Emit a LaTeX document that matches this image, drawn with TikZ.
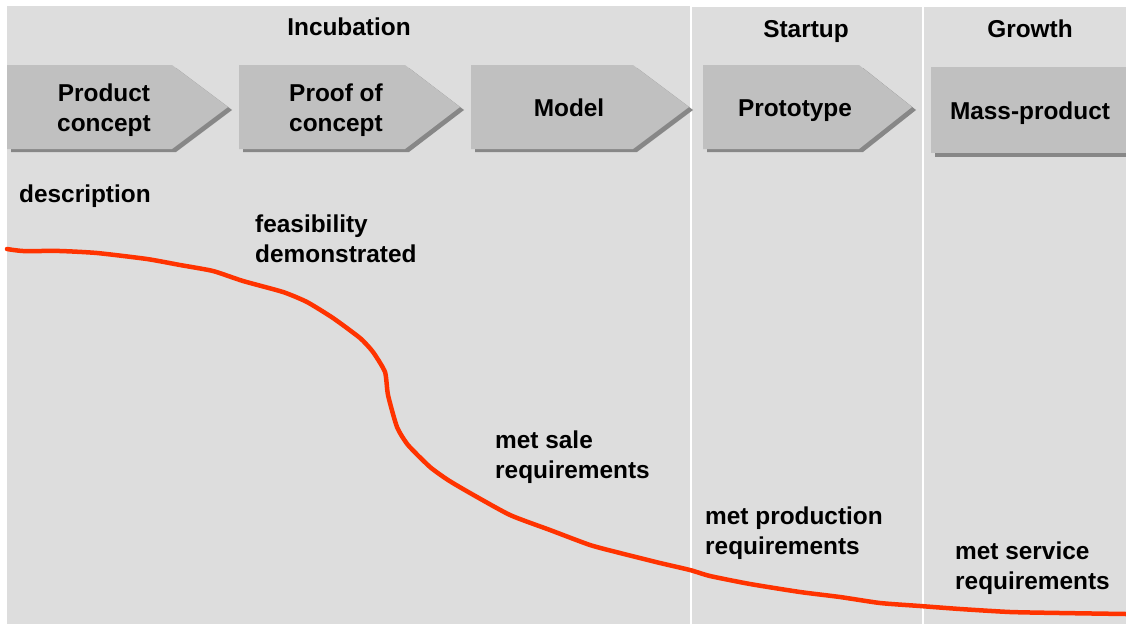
\documentclass[tikz,border=0pt]{standalone}
\usepackage{fontspec}
\setmainfont{Liberation Sans}
\usetikzlibrary{calc}
\definecolor{panelgray}{HTML}{DDDDDD}
\definecolor{boxgray}{HTML}{C0C0C0}
\definecolor{shadowgray}{HTML}{878787}
\definecolor{curvered}{HTML}{FF3300}
\tikzset{
  panel/.style={fill=panelgray, draw=none},
  stagebox/.style={fill=boxgray, draw=none},
  stageshadow/.style={fill=shadowgray, draw=none},
  lbl/.style={font=\bfseries\fontsize{24.4}{29.5}\selectfont, inner sep=0pt, align=left, anchor=base west},
  title/.style={font=\bfseries\fontsize{24.4}{29.5}\selectfont, inner sep=0pt, align=center, anchor=base},
  curve/.style={draw=curvered, line width=4.5pt, line join=round, line cap=round}
}
\begin{document}
\begin{tikzpicture}[x=1pt,y=-1pt]
\useasboundingbox[fill=white] (0,0) rectangle (1126,624);
% panels
\path[panel] (7,6) rectangle (690,624);
\path[panel] (692,7) rectangle (922,624);
\path[panel] (924,7) rectangle (1126,624);
% phase titles
\node[title] (incub) at (349,35) {Incubation};
\node[title] (start) at (806,37) {Startup};
\node[title] (grow) at (1030,37) {Growth};
% stage chevrons: shadows
\path[stageshadow] (11,68) -- (176,68) -- (232,110) -- (176,152) -- (11,152) -- cycle;
\path[stageshadow] (243,68) -- (409,68) -- (464,110) -- (409,152) -- (243,152) -- cycle;
\path[stageshadow] (475,68) -- (637,68) -- (693,110) -- (637,152) -- (475,152) -- cycle;
\path[stageshadow] (707,68) -- (863,68) -- (916,110) -- (863,152) -- (707,152) -- cycle;
\path[stageshadow] (935,71) rectangle (1126,157);
% stage chevrons
\path[stagebox] (7,65) -- (172,65) -- (228,107) -- (172,149) -- (7,149) -- cycle;
\path[stagebox] (239,65) -- (405,65) -- (460,107) -- (405,149) -- (239,149) -- cycle;
\path[stagebox] (471,65) -- (633,65) -- (689,107) -- (633,149) -- (471,149) -- cycle;
\path[stagebox] (703,65) -- (859,65) -- (912,107) -- (859,149) -- (703,149) -- cycle;
\path[stagebox] (931,67) rectangle (1126,153);
% stage labels (base = baseline of the last line)
\node[title] (s1) at (104,131) {Product\\concept};
\node[title] (s2) at (336,131) {Proof of\\concept};
\node[title] (s3) at (569,116) {Model};
\node[title] (s4) at (795,116) {Prototype};
\node[title] (s5) at (1030,119) {Mass-product};
% curve
\draw[curve] plot[smooth, tension=0.35] coordinates {
 (7,249) (23,251) (60,251) (97,253) (147,259) (180,265) (213,271) (243,281)
 (283,292) (307,302) (333,318) (360,338) (373,352) (385,372) (388,395)
 (397,427) (408,445) (430,467) (448,480) (470,493) (510,515) (550,530)
 (590,545) (620,553) (660,563) (690,570) (710,576) (750,584) (800,592)
 (840,597) (880,603) (920,606) (960,609) (1010,612) (1060,613) (1126,614)};
% milestone labels
\node[lbl] (m1) at (19,202) {description};
\node[lbl] (m2) at (255,262) {feasibility\\demonstrated};
\node[lbl] (m3) at (495,478) {met sale\\requirements};
\node[lbl] (m4) at (705,554) {met production\\requirements};
\node[lbl] (m5) at (955,589) {met service\\requirements};
\end{tikzpicture}
\end{document}
